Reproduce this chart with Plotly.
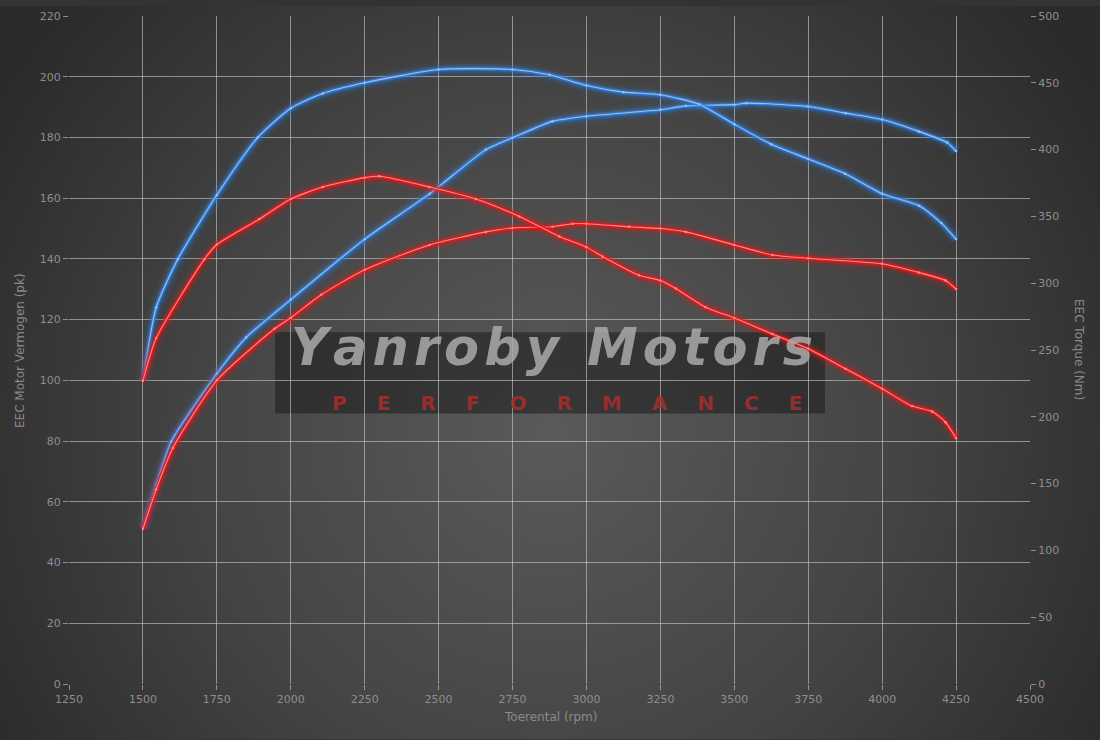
import base64
import plotly.graph_objects as go

# ---------------- data ----------------
# Original (red) torque, Nm (right axis)
red_torque_rpm = [1500, 1545, 1708, 1750, 1894, 2000, 2108, 2250, 2300, 2469, 2626, 2773, 2908, 3000,
                  3054, 3178, 3250, 3302, 3403, 3500, 3629, 3750, 3876, 4000, 4101, 4169, 4214, 4250]
red_torque_nm = [227, 259, 318, 329, 348, 363, 372, 379, 380, 372, 363, 350, 335, 327,
                 320, 306, 302, 296, 282, 274, 262, 251, 236, 221, 208, 204, 196, 184]

# Original (red) power, pk (left axis)
red_power_rpm = [1500, 1545, 1601, 1750, 1945, 2000, 2103, 2250, 2469, 2660, 2750, 2885, 2953, 3000,
                 3144, 3250, 3336, 3500, 3629, 3750, 4000, 4124, 4214, 4250]
red_power_pk = [51.1, 64.1, 77.7, 100, 117, 120.6, 128.2, 136.4, 144.6, 148.9, 150.2, 150.6, 151.6, 151.6,
                150.6, 150.0, 148.9, 144.6, 141.3, 140.2, 138.4, 135.5, 132.9, 130.1]

# Tuned (blue) torque, Nm (right axis)
blue_torque_rpm = [1500, 1545, 1618, 1750, 1888, 2000, 2108, 2250, 2500, 2750, 2875, 3000, 3125,
                   3250, 3381, 3500, 3625, 3750, 3875, 4000, 4125, 4200, 4250]
blue_torque_nm = [227, 282, 318, 366, 409, 431, 442, 450, 460, 460, 456, 448, 443,
                  441, 434, 419, 404, 393, 382, 367, 358, 345, 333]

# Tuned (blue) power, pk (left axis)
blue_power_rpm = [1500, 1545, 1596, 1750, 1849, 2000, 2250, 2469, 2660, 2750, 2885, 3000, 3250,
                  3336, 3500, 3540, 3750, 3876, 4000, 4124, 4220, 4250]
blue_power_pk = [51.6, 65.8, 79.9, 102.2, 114.1, 126.6, 146.5, 161.4, 176, 179.9, 185.3, 187, 189.1,
                 190.4, 190.8, 191.3, 190.2, 188, 185.9, 182, 178.3, 175.5]

x_ticks = list(range(1250, 4501, 250))
y_left_ticks = list(range(0, 221, 20))
y_right_ticks = list(range(0, 501, 50))

x_title = "Toerental (rpm)"
y_left_title = "EEC Motor Vermogen (pk)"
y_right_title = "EEC Torque (Nm)"
brand = "Yanroby Motors"
tagline = "PERFORMANCE"

# ---------------- figure ----------------
W, H = 1100, 740
ML, MR, MT, MB = 69, 70, 10, 56
PW, PH = W - ML - MR, H - MT - MB

fig = go.Figure()

BLUE_GLOW = "50,125,215"
BLUE_CORE = "rgb(150,195,245)"
RED_GLOW = "230,25,25"
RED_CORE = "rgb(255,135,135)"


def glow_line(xs, ys, glow, core, yaxis):
    for w, a in [(15, 0.08), (9, 0.2), (5, 0.5), (2.8, 0.85)]:
        fig.add_trace(go.Scatter(x=xs, y=ys, yaxis=yaxis, mode="lines",
                                 line=dict(color=f"rgba({glow},{a})", width=w,
                                           shape="spline", smoothing=0.6),
                                 hoverinfo="skip", showlegend=False))
    fig.add_trace(go.Scatter(x=xs, y=ys, yaxis=yaxis, mode="lines+markers",
                             line=dict(color=core, width=1.1, shape="spline", smoothing=0.6),
                             marker=dict(size=2.5, color=core),
                             showlegend=False))


glow_line(blue_torque_rpm, blue_torque_nm, BLUE_GLOW, BLUE_CORE, "y2")
glow_line(blue_power_rpm, blue_power_pk, BLUE_GLOW, BLUE_CORE, "y")
glow_line(red_torque_rpm, red_torque_nm, RED_GLOW, RED_CORE, "y2")
glow_line(red_power_rpm, red_power_pk, RED_GLOW, RED_CORE, "y")

# radial gradient background
svg = f'''<svg xmlns="http://www.w3.org/2000/svg" width="{W}" height="{H}" viewBox="0 0 {W} {H}">
<defs><radialGradient id="g" gradientUnits="userSpaceOnUse" cx="550" cy="430" r="640">
<stop offset="0" stop-color="#5a5a5a"/><stop offset="0.55" stop-color="#444444"/>
<stop offset="1" stop-color="#2b2b2b"/></radialGradient></defs>
<rect width="{W}" height="{H}" fill="url(#g)"/></svg>'''
src = "data:image/svg+xml;base64," + base64.b64encode(svg.encode()).decode()

fig.add_layout_image(dict(source=src, xref="paper", yref="paper",
                          x=-ML / PW, y=1 + MT / PH, sizex=W / PW, sizey=H / PH,
                          xanchor="left", yanchor="top", sizing="stretch", layer="below"))

GRID = "rgba(205,205,205,0.6)"
TICKF = dict(family="DejaVu Sans", size=11, color="#8e8e8e")

fig.update_layout(
    width=W, height=H,
    margin=dict(l=ML, r=MR, t=MT, b=MB),
    paper_bgcolor="#333333",
    plot_bgcolor="rgba(0,0,0,0)",
    showlegend=False,
    xaxis=dict(range=[1250, 4500], tickvals=x_ticks, showgrid=True, gridcolor=GRID, gridwidth=1,
               zeroline=False, ticks="outside", ticklen=5, tickcolor=GRID, tickfont=TICKF,
               showline=False),
    yaxis=dict(range=[0, 220], tickvals=y_left_ticks, showgrid=True, gridcolor=GRID, gridwidth=1,
               zeroline=False, ticks="outside", ticklen=5, tickcolor=GRID, tickfont=TICKF,
               showline=False),
    yaxis2=dict(range=[0, 500], tickvals=y_right_ticks, overlaying="y", side="right",
                showgrid=False, zeroline=False, ticks="outside", ticklen=5, tickcolor=GRID,
                tickfont=TICKF, showline=False),
)

# watermark box
fig.add_shape(type="rect", xref="paper", yref="paper",
              x0=(275 - ML) / PW, x1=(825 - ML) / PW,
              y0=(H - MB - 411) / PH, y1=(H - MB - 329) / PH,
              fillcolor="rgba(28,28,28,0.55)", line=dict(width=0), layer="below")


def ann(px, py, text, font, angle=0):
    fig.add_annotation(xref="paper", yref="paper", x=(px - ML) / PW, y=(H - MB - py) / PH,
                       xanchor="center", yanchor="middle", text=text, showarrow=False,
                       textangle=angle, font=font)


ann(552, 344, "\u200a".join(list(brand)),
    dict(family="DejaVu Sans", size=51, color="rgba(170,170,170,0.85)", weight="bold", style="italic"))
ann(567, 400, "\u2003\u2002".join(list(tagline)),
    dict(family="DejaVu Sans", size=20, color="rgba(170,45,45,0.85)", weight="bold"))

# axis titles
TITLEF = dict(family="DejaVu Sans", size=12, color="#8a8a8a")
ann(550, 717, x_title, TITLEF)
ann(20, 348, y_left_title, TITLEF, -90)
ann(1079, 346, y_right_title, TITLEF, 90)

fig.write_html("out.html", config={"displayModeBar": False},
               post_script="document.body.style.margin='0';document.body.style.background='#2b2b2b';")
